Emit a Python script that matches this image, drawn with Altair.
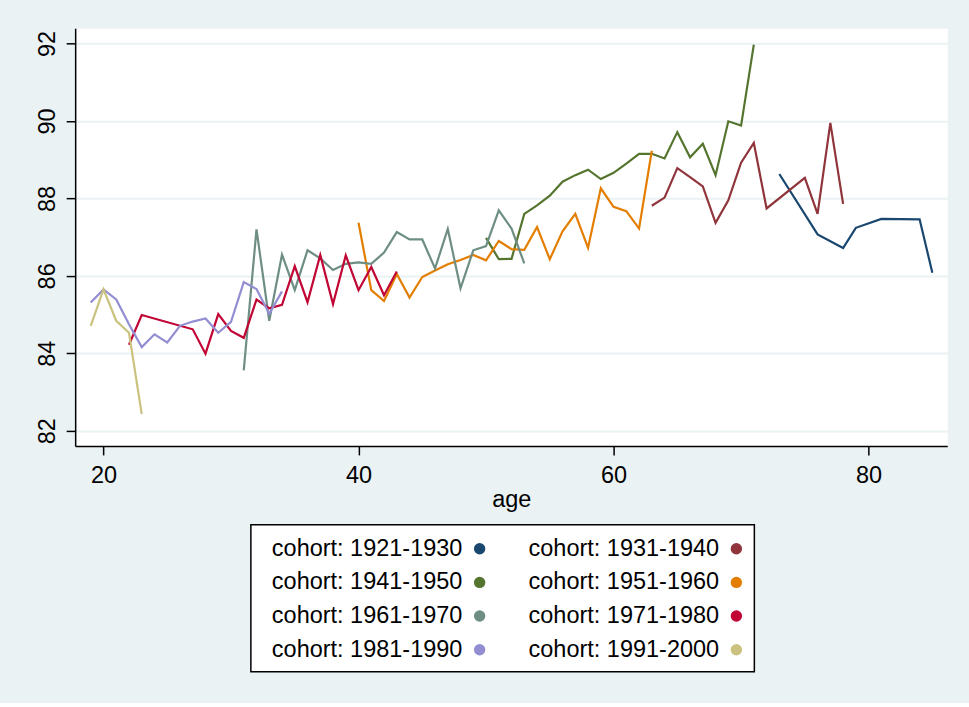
import altair as alt
import pandas as pd

FONT = "Liberation Sans"
BG = "#eaf2f3"

cohorts = [
    "cohort: 1921-1930", "cohort: 1931-1940", "cohort: 1941-1950", "cohort: 1951-1960",
    "cohort: 1961-1970", "cohort: 1971-1980", "cohort: 1981-1990", "cohort: 1991-2000",
]
colors = ["#1a476f", "#90353b", "#55752f", "#e37e00", "#6e8e84", "#c10534", "#938dd2", "#cac27e"]

ages_1921 = [73, 76, 78, 79, 81, 84, 85]
vals_1921 = [88.63, 87.07, 86.72, 87.24, 87.47, 87.46, 86.08]

ages_1931 = [63, 64, 65, 66, 67, 68, 69, 70, 71, 72, 75, 76, 77, 78]
vals_1931 = [87.81, 88.02, 88.78, 88.55, 88.31, 87.37, 87.95, 88.92, 89.43, 87.74, 88.53, 87.60, 89.95, 87.86]

ages_1941 = list(range(50, 72))
vals_1941 = [86.98, 86.43, 86.44, 87.60, 87.82, 88.07, 88.43, 88.60, 88.74, 88.50, 88.66,
             88.90, 89.15, 89.15, 89.03, 89.71, 89.06, 89.41, 88.60, 89.99, 89.88, 91.97]

ages_1951 = list(range(40, 64))
vals_1951 = [87.37, 85.63, 85.35, 86.05, 85.44, 85.97, 86.14, 86.30, 86.41, 86.54, 86.40, 86.90,
             86.69, 86.67, 87.26, 86.43, 87.15, 87.60, 86.72, 88.26, 87.78, 87.67, 87.22, 89.23]

ages_1961 = list(range(31, 54))
vals_1961 = [83.56, 87.20, 84.84, 86.55, 85.63, 86.66, 86.45, 86.15, 86.31, 86.35, 86.31, 86.60,
             87.13, 86.94, 86.94, 86.19, 87.21, 85.68, 86.66, 86.77, 87.69, 87.22, 86.32]

ages_1971 = [22, 23, 27, 28, 29, 30, 31, 32, 33, 34, 35, 36, 37, 38, 39, 40, 41, 42, 43]
vals_1971 = [84.22, 84.99, 84.62, 83.99, 85.01, 84.58, 84.40, 85.39, 85.16, 85.25, 86.25, 85.32,
             86.54, 85.27, 86.53, 85.63, 86.23, 85.50, 86.11]

ages_1981 = list(range(19, 35))
vals_1981 = [85.31, 85.65, 85.39, 84.75, 84.16, 84.49, 84.28, 84.71, 84.82, 84.90, 84.53, 84.81,
             85.84, 85.66, 85.02, 85.60]

ages_1991 = [19, 20, 21, 22, 23]
vals_1991 = [84.71, 85.65, 84.84, 84.53, 82.43]

series = [
    (ages_1921, vals_1921), (ages_1931, vals_1931), (ages_1941, vals_1941), (ages_1951, vals_1951),
    (ages_1961, vals_1961), (ages_1971, vals_1971), (ages_1981, vals_1981), (ages_1991, vals_1991),
]

rows = []
for k, (label, (ages, vals)) in enumerate(zip(cohorts, series)):
    for a, v in zip(ages, vals):
        rows.append({"cohort": label, "age": a, "value": v, "k": k})
df = pd.DataFrame(rows)

color_scale = alt.Scale(domain=cohorts, range=colors)

main = alt.Chart(df).mark_line(strokeWidth=2.2, clip=True).encode(
    x=alt.X("age:Q",
            scale=alt.Scale(domain=[17.78, 86.17], nice=False, zero=False),
            axis=alt.Axis(values=[20, 40, 60, 80], grid=False, title="age",
                          tickSize=9, labelPadding=9, titlePadding=0)),
    y=alt.Y("value:Q",
            scale=alt.Scale(domain=[81.61, 92.39], nice=False, zero=False),
            axis=alt.Axis(values=[82, 84, 86, 88, 90, 92], grid=True, title=None,
                          gridColor=BG, gridWidth=2, tickSize=9,
                          labelAngle=270, labelAlign="center", labelBaseline="bottom",
                          labelPadding=7)),
    color=alt.Color("cohort:N", scale=color_scale, legend=None),
    order=alt.Order("k:Q"),
).properties(
    width=873, height=418,
    view=alt.ViewBackground(fill="white", stroke="transparent"),
)

leg_base = alt.Chart(pd.DataFrame({"cohort": cohorts})).transform_window(
    idx="row_number()"
).transform_calculate(
    col="(datum.idx - 1) % 2",
    row="floor((datum.idx - 1) / 2)",
)

leg_x = alt.X("col:Q", scale=alt.Scale(domain=[0, 1], range=[21, 278]), axis=None)
leg_y = alt.Y("row:Q", scale=alt.Scale(domain=[0, 3], range=[24, 125]), axis=None)

leg_text = leg_base.mark_text(align="left", baseline="middle", font=FONT,
                              fontSize=23.5, color="black").encode(
    x=leg_x, y=leg_y, text="cohort:N")
leg_dots = leg_base.mark_circle(size=130, opacity=1, xOffset=208).encode(
    x=leg_x, y=leg_y,
    color=alt.Color("cohort:N", scale=color_scale, legend=None))

legend = alt.layer(leg_text, leg_dots).properties(
    width=504, height=147,
    view=alt.ViewBackground(fill="white", stroke="black", strokeWidth=1.5),
)

# invisible spacer so the legend box sits slightly left of the plot centre
spacer = alt.Chart(pd.DataFrame({"cohort": cohorts[:1]})).mark_point(opacity=0).properties(
    width=1, height=147,
    view=alt.ViewBackground(stroke="transparent"),
)

legend_row = alt.hconcat(legend, spacer, spacing=10)

chart = alt.vconcat(main, legend_row, spacing=12, center=True, bounds="full").properties(
    background=BG,
    padding={"left": 34, "top": 27, "right": 21, "bottom": 30},
).configure_axis(
    domainColor="black", domainWidth=1.5, tickColor="black", tickWidth=1.5,
    labelFont=FONT, labelFontSize=23.5, labelColor="black",
    titleFont=FONT, titleFontSize=23.5, titleFontWeight="normal", titleColor="black",
)

chart.save("out.html", embed_options={"renderer": "svg", "actions": False})
